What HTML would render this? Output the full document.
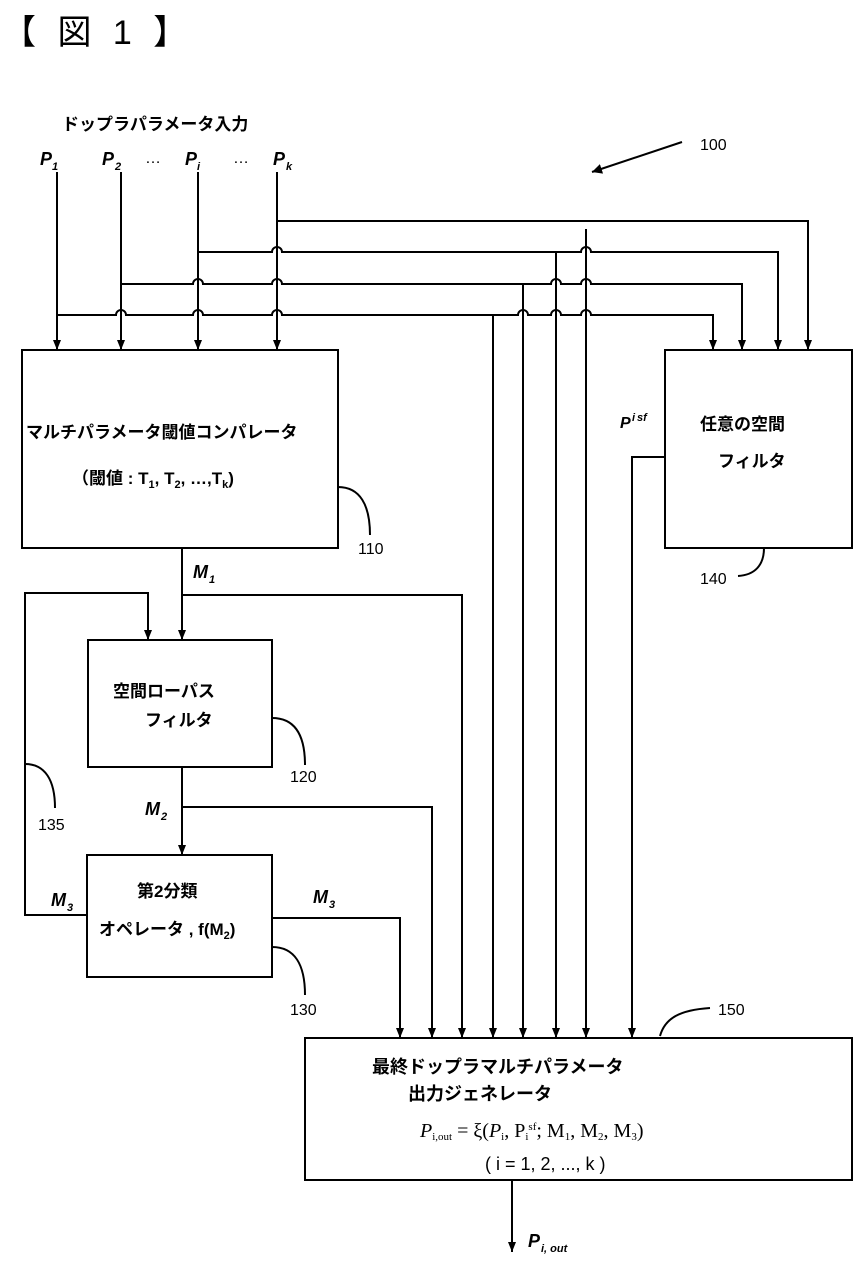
<!DOCTYPE html>
<html><head><meta charset="utf-8"><style>
html,body{margin:0;padding:0;background:#fff}
svg{display:block}
text{font-family:"Liberation Sans","Noto Sans CJK JP",sans-serif;fill:#000}
.j{font-weight:bold;font-size:17px}
.it{font-style:italic;font-weight:bold;font-size:18px}
.s{font-style:italic;font-weight:bold;font-size:11px}
.n{font-size:16px}
</style></head><body>
<svg width="855" height="1262" viewBox="0 0 855 1262">
<defs><marker id="a" markerWidth="10" markerHeight="8" refX="10" refY="4" orient="auto" markerUnits="userSpaceOnUse"><path d="M0,0 L10,4 L0,8 Z" fill="#000"/></marker>
<marker id="b" markerWidth="10" markerHeight="10" refX="10" refY="5" orient="auto" markerUnits="userSpaceOnUse"><path d="M0,0 L10,5 L0,10 Z" fill="#000"/></marker></defs>
<text x="2" y="44" style="font-size:34px;letter-spacing:6px" font-family="Noto Sans CJK JP, sans-serif">【 図 1 】</text>
<text x="62" y="130" class="j">ドップラパラメータ入力</text>
<text x="40" y="165" class="it">P</text><text x="52" y="170" class="s">1</text>
<text x="102" y="165" class="it">P</text><text x="115" y="170" class="s">2</text>
<text x="145" y="163" class="n">…</text>
<text x="185" y="165" class="it">P</text><text x="197" y="170" class="s">i</text>
<text x="233" y="163" class="n">…</text>
<text x="273" y="165" class="it">P</text><text x="286" y="170" class="s">k</text>
<text x="700" y="150" class="n">100</text>
<line x1="682" y1="142" x2="592" y2="172" stroke="#000" stroke-width="2" marker-end="url(#b)"/>
<g stroke="#000" stroke-width="2" fill="none">
<line x1="57" y1="172" x2="57" y2="350" marker-end="url(#a)"/>
<line x1="121" y1="172" x2="121" y2="350" marker-end="url(#a)"/>
<line x1="198" y1="172" x2="198" y2="350" marker-end="url(#a)"/>
<line x1="277" y1="172" x2="277" y2="350" marker-end="url(#a)"/>
<path d="M277,221 H808 V350" marker-end="url(#a)"/>
<path d="M198,252 H272 a5,5 0 0 1 10,0 H581 a5,5 0 0 1 10,0 H778 V350" marker-end="url(#a)"/>
<path d="M121,284 H193 a5,5 0 0 1 10,0 H272 a5,5 0 0 1 10,0 H551 a5,5 0 0 1 10,0 H581 a5,5 0 0 1 10,0 H742 V350" marker-end="url(#a)"/>
<path d="M57,315 H116 a5,5 0 0 1 10,0 H193 a5,5 0 0 1 10,0 H272 a5,5 0 0 1 10,0 H518 a5,5 0 0 1 10,0 H551 a5,5 0 0 1 10,0 H581 a5,5 0 0 1 10,0 H713 V350" marker-end="url(#a)"/>
<line x1="493" y1="315" x2="493" y2="1038" marker-end="url(#a)"/>
<line x1="523" y1="284" x2="523" y2="1038" marker-end="url(#a)"/>
<line x1="556" y1="252" x2="556" y2="1038" marker-end="url(#a)"/>
<line x1="586" y1="229" x2="586" y2="1038" marker-end="url(#a)"/>
<rect x="22" y="350" width="316" height="198"/>
<rect x="665" y="350" width="187" height="198"/>
<rect x="88" y="640" width="184" height="127"/>
<rect x="87" y="855" width="185" height="122"/>
<rect x="305" y="1038" width="547" height="142"/>
<line x1="182" y1="548" x2="182" y2="640" marker-end="url(#a)"/>
<path d="M182,595 H462 V1038" marker-end="url(#a)"/>
<path d="M87,915 H25 V593 H148 V640" marker-end="url(#a)"/>
<line x1="182" y1="767" x2="182" y2="855" marker-end="url(#a)"/>
<path d="M182,807 H432 V1038" marker-end="url(#a)"/>
<path d="M272,918 H400 V1038" marker-end="url(#a)"/>
<path d="M665,457 H632 V1038" marker-end="url(#a)"/>
<line x1="512" y1="1180" x2="512" y2="1252" marker-end="url(#a)"/>
<path d="M338,487 C360,487 370,505 370,535"/>
<path d="M764,548 C764,565 755,575 738,576"/>
<path d="M272,718 C295,718 305,735 305,765"/>
<path d="M272,947 C295,947 305,965 305,995"/>
<path d="M25,764 C45,764 55,780 55,808"/>
<path d="M660,1036 C665,1018 680,1010 710,1008"/>
</g>
<text x="26" y="438" class="j">マルチパラメータ閾値コンパレータ</text>
<text x="72" y="484" class="j">（閾値 : T<tspan style="font-size:11px" dy="4">1</tspan><tspan dy="-4">, T</tspan><tspan style="font-size:11px" dy="4">2</tspan><tspan dy="-4">, …,T</tspan><tspan style="font-size:11px" dy="4">k</tspan><tspan dy="-4">)</tspan></text>
<text x="358" y="554" class="n">110</text>
<text x="700" y="430" class="j">任意の空間</text>
<text x="718" y="467" class="j">フィルタ</text>
<text x="620" y="428" class="it" style="font-size:16px">P</text><text x="632" y="421" class="s" style="font-size:11px">i</text><text x="637" y="421" class="s" style="font-size:11px">sf</text>
<text x="700" y="584" class="n">140</text>
<text x="193" y="578" class="it">M</text><text x="209" y="583" class="s">1</text>
<text x="113" y="697" class="j">空間ローパス</text>
<text x="145" y="726" class="j">フィルタ</text>
<text x="290" y="782" class="n">120</text>
<text x="38" y="830" class="n">135</text>
<text x="145" y="815" class="it">M</text><text x="161" y="820" class="s">2</text>
<text x="137" y="897" class="j">第2分類</text>
<text x="99" y="935" class="j">オペレータ , f(M<tspan style="font-size:11px" dy="4">2</tspan><tspan dy="-4">)</tspan></text>
<text x="51" y="906" class="it">M</text><text x="67" y="911" class="s">3</text>
<text x="313" y="903" class="it">M</text><text x="329" y="908" class="s">3</text>
<text x="290" y="1015" class="n">130</text>
<text x="718" y="1015" class="n">150</text>
<text x="372" y="1073" class="j" style="font-size:18px">最終ドップラマルチパラメータ</text>
<text x="408" y="1100" class="j" style="font-size:18px">出力ジェネレータ</text>
<text x="420" y="1137" style="font-family:'Liberation Serif',serif;font-size:20px"><tspan font-style="italic">P</tspan><tspan style="font-size:11px" dy="3">i,out</tspan><tspan dy="-3"> = ξ(</tspan><tspan font-style="italic">P</tspan><tspan style="font-size:11px" dy="3">i</tspan><tspan dy="-3">, P</tspan><tspan style="font-size:11px" dy="3">i</tspan><tspan style="font-size:11px" dy="-10">sf</tspan><tspan dy="7">; M</tspan><tspan style="font-size:11px" dy="3">1</tspan><tspan dy="-3">, M</tspan><tspan style="font-size:11px" dy="3">2</tspan><tspan dy="-3">, M</tspan><tspan style="font-size:11px" dy="3">3</tspan><tspan dy="-3">)</tspan></text>
<text x="485" y="1170" style="font-size:18px">( i = 1, 2, ..., k )</text>
<text x="528" y="1247" class="it">P</text><text x="541" y="1252" class="s">i, out</text>
</svg>
</body></html>
